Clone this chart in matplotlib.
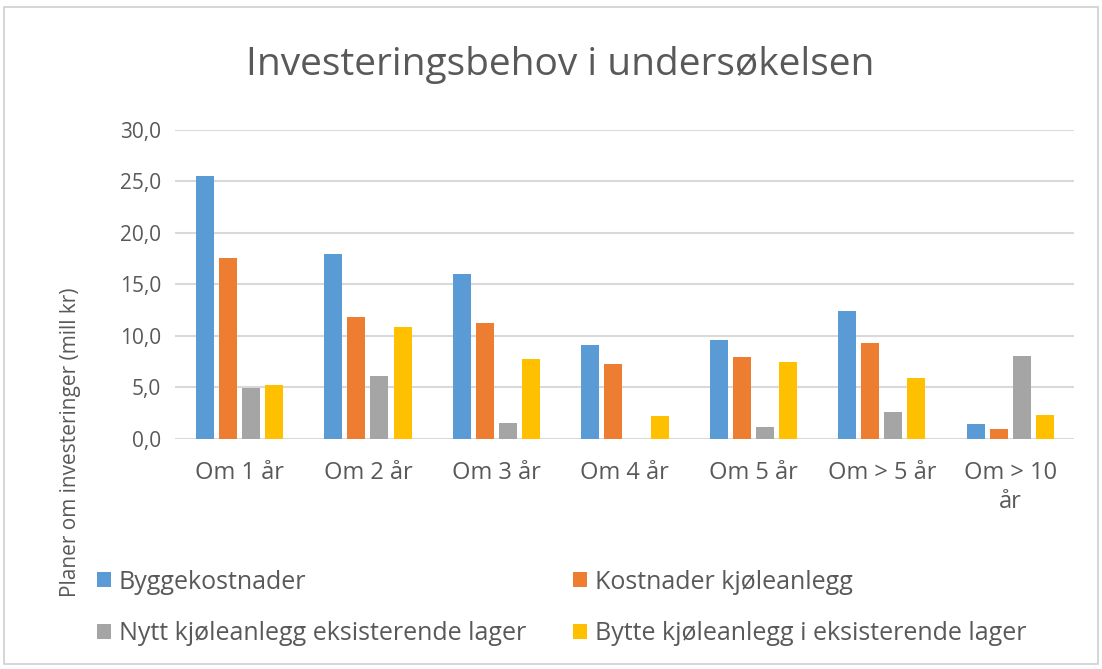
import numpy as np
import matplotlib.pyplot as plt
from matplotlib.patches import Rectangle

plt.rcParams['font.family'] = ['Open Sans', 'DejaVu Sans']

categories = ['Om 1 år', 'Om 2 år', 'Om 3 år', 'Om 4 år', 'Om 5 år', 'Om > 5 år', 'Om > 10\når']
series_names = ['Byggekostnader', 'Kostnader kjøleanlegg',
                'Nytt kjøleanlegg eksisterende lager', 'Bytte kjøleanlegg i eksisterende lager']
bygg = [25.5, 17.9, 16.0, 9.1, 9.6, 12.4, 1.4]
kjole = [17.6, 11.8, 11.2, 7.3, 7.9, 9.3, 1.0]
nytt = [4.9, 6.1, 1.5, 0.0, 1.2, 2.6, 8.0]
bytte = [5.2, 10.9, 7.8, 2.2, 7.5, 5.9, 2.3]
colors = ['#5B9BD5', '#ED7D31', '#A5A5A5', '#FFC000']
yticks = [0, 5, 10, 15, 20, 25, 30]

txt = '#595959'
fig = plt.figure(figsize=(11.02, 6.69), dpi=100)
ax = fig.add_axes([0.159, 0.344, 0.816, 0.462])

x = np.arange(len(categories))
w = 0.14
step = 0.18
for i, (vals, name) in enumerate(zip([bygg, kjole, nytt, bytte], series_names)):
    ax.bar(x + (i - 1.5) * step, vals, width=w, color=colors[i], label=name, zorder=3)

ax.set_xlim(-0.5, len(categories) - 0.5)
ax.set_ylim(0, 30)
ax.set_yticks(yticks)
ax.set_yticklabels([f'{v:.1f}'.replace('.', ',') for v in yticks])
ax.set_xticks(x)
ax.set_xticklabels(categories, linespacing=1.3)
ax.tick_params(axis='both', length=0, colors=txt)
ax.tick_params(axis='y', pad=10, labelsize=15)
ax.tick_params(axis='x', pad=16, labelsize=17)
ax.grid(axis='y', color='#d9d9d9', linewidth=1.5, zorder=0)
for s in ax.spines.values():
    s.set_visible(False)

fig.text(0.508, 0.903, 'Investeringsbehov i undersøkelsen', ha='center', va='center',
         fontsize=28, color=txt)
fig.text(0.064, 0.339, 'Planer om investeringer (mill kr)', rotation=90,
         ha='center', va='center', fontsize=15, color=txt)

# legend is filled row by row: reorder so matplotlib's column filling matches
handles, labels = ax.get_legend_handles_labels()
order = [0, 2, 1, 3]
fig.legend([handles[k] for k in order], [labels[k] for k in order], ncol=2,
           loc='upper left', bbox_to_anchor=(0.068, 0.182),
           frameon=False, fontsize=18, labelcolor=txt, handlelength=0.55, handleheight=0.55,
           handletextpad=0.3, columnspacing=1.9, labelspacing=1.05)

fig.patches.append(Rectangle((0.004, 0.008), 0.992, 0.982, transform=fig.transFigure,
                             fill=False, edgecolor='#d0d0d0', linewidth=1.2))

fig.savefig('out.png', dpi=100, facecolor='white')
